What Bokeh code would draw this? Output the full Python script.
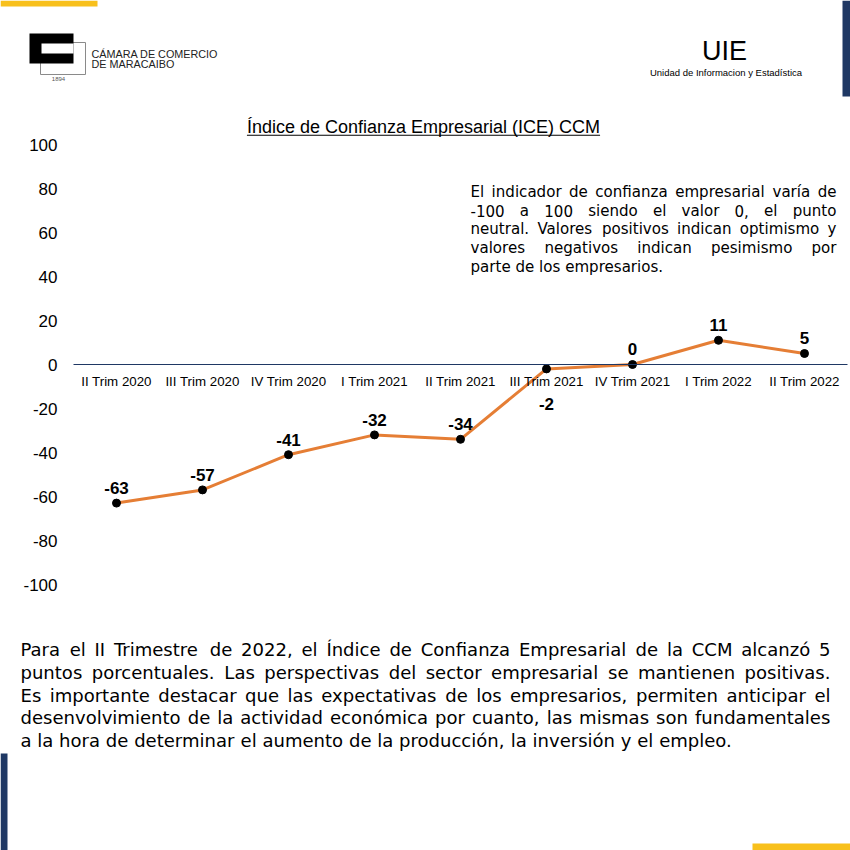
import glob
import os
import struct

from bokeh.core.properties import value
from bokeh.embed import file_html
from bokeh.models import ColumnDataSource, FixedTicker, Range1d
from bokeh.plotting import figure
from bokeh.resources import INLINE

# ---------------- data ----------------
categories = ["II Trim 2020", "III Trim 2020", "IV Trim 2020", "I Trim 2021", "II Trim 2021",
              "III Trim 2021", "IV Trim 2021", "I Trim 2022", "II Trim 2022"]
ice_values = [-63, -57, -41, -32, -34, -2, 0, 11, 5]
y_ticks = [-100, -80, -60, -40, -20, 0, 20, 40, 60, 80, 100]

chart_title = "Índice de Confianza Empresarial (ICE) CCM"
note_lines = [
    "El indicador de confianza empresarial varía de",
    "-100 a 100 siendo el valor 0, el punto",
    "neutral. Valores positivos indican optimismo y",
    "valores negativos indican pesimismo por",
    "parte de los empresarios.",
]
paragraph_lines = [
    "Para el II Trimestre de 2022, el Índice de Confianza Empresarial de la CCM alcanzó 5",
    "puntos porcentuales. Las perspectivas del sector empresarial se mantienen positivas.",
    "Es importante destacar que las expectativas de los empresarios, permiten anticipar el",
    "desenvolvimiento de la actividad económica por cuanto, las mismas son fundamentales",
    "a la hora de determinar el aumento de la producción, la inversión y el empleo.",
]

# label vertical offsets (style only, pixels)
label_offsets = [-15, -15, -15, -15, -15, 35, -16, -15, -16]

NAVY = "#1F3864"
YELLOW = "#F8C01C"
ORANGE = "#E57E35"
W = H = 850

# chart placement on the page (layout, pixels)
FIRST_CENTER = 116     # x of first category centre
CAT_STEP = 86          # pixels per category
ZERO_Y = 364           # y of value 0
PX_PER_UNIT = 2.2      # pixels per index point
MID = 0.347            # distance baseline -> text middle, in em


# ---------------- font metrics (for justified text) ----------------
def find_font(fname):
    for root in ["/usr/share/fonts", "/usr/local/share/fonts", os.path.expanduser("~/.fonts")]:
        hits = glob.glob(os.path.join(root, "**", fname), recursive=True)
        if hits:
            return hits[0]
    return None


def load_width_fn(fname):
    fallback = lambda ch: 0.3 if ch == " " else 0.56
    path = find_font(fname)
    if path is None:
        return fallback
    try:
        data = open(path, "rb").read()
        num = struct.unpack(">H", data[4:6])[0]
        tables = {}
        for i in range(num):
            tag, _cs, off, _ln = struct.unpack(">4sIII", data[12 + 16 * i:28 + 16 * i])
            tables[tag.decode("latin1")] = off
        head = tables["head"]
        upem = struct.unpack(">H", data[head + 18:head + 20])[0]
        hhea = tables["hhea"]
        nhm = struct.unpack(">H", data[hhea + 34:hhea + 36])[0]
        hm = tables["hmtx"]
        adv = [struct.unpack(">H", data[hm + 4 * i:hm + 4 * i + 2])[0] for i in range(nhm)]
        cm = tables["cmap"]
        nsub = struct.unpack(">H", data[cm + 2:cm + 4])[0]
        seginfo = None
        for i in range(nsub):
            pid, eid, off = struct.unpack(">HHI", data[cm + 4 + 8 * i:cm + 12 + 8 * i])
            sub = cm + off
            fmt = struct.unpack(">H", data[sub:sub + 2])[0]
            if fmt == 4 and (pid == 3 or pid == 0):
                segx2 = struct.unpack(">H", data[sub + 6:sub + 8])[0]
                seg = segx2 // 2
                ends = struct.unpack(">%dH" % seg, data[sub + 14:sub + 14 + segx2])
                so = sub + 16 + segx2
                starts = struct.unpack(">%dH" % seg, data[so:so + segx2])
                deltas = struct.unpack(">%dh" % seg, data[so + segx2:so + 2 * segx2])
                ro = so + 2 * segx2
                ros = struct.unpack(">%dH" % seg, data[ro:ro + segx2])
                seginfo = (seg, ends, starts, deltas, ro, ros)
                break
        seg, ends, starts, deltas, ro, ros = seginfo

        def glyph(c):
            for s in range(seg):
                if starts[s] <= c <= ends[s]:
                    if ros[s] == 0:
                        return (c + deltas[s]) & 0xFFFF
                    addr = ro + 2 * s + ros[s] + 2 * (c - starts[s])
                    g = struct.unpack(">H", data[addr:addr + 2])[0]
                    return (g + deltas[s]) & 0xFFFF if g else 0
            return 0

        cache = {}

        def width(ch):
            if ch not in cache:
                g = glyph(ord(ch))
                cache[ch] = adv[min(g, nhm - 1)] / upem
            return cache[ch]
        return width
    except Exception:
        return fallback


dejavu_w = load_width_fn("DejaVuSans.ttf")
arial_w = load_width_fn("LiberationSans-Regular.ttf")


def em_width(text, wfn):
    return sum(wfn(c) for c in text)


def justified(lines, left, right, baselines, size, wfn):
    xs, ys, texts = [], [], []
    for i, (line, base) in enumerate(zip(lines, baselines)):
        words = line.split(" ")
        widths = [em_width(w, wfn) * size for w in words]
        if i == len(lines) - 1 or len(words) == 1:
            gap = wfn(" ") * size
        else:
            gap = (right - left - sum(widths)) / (len(words) - 1)
        x = left
        for w, wd in zip(words, widths):
            xs.append(x)
            ys.append(base - MID * size)
            texts.append(w)
            x += wd + gap
    return xs, ys, texts


def fit_size(lines, left, right, last_width, wfn):
    size = last_width / em_width(lines[-1], wfn)
    for ln in lines[:-1]:
        size = min(size, (right - left) * 0.985 / em_width(ln, wfn))
    return size


# ---------------- figure: frame covers the whole page ----------------
n = len(categories)
x_pos = list(range(n))
p = figure(width=W, height=H,
           x_range=Range1d(-FIRST_CENTER / CAT_STEP, (W - FIRST_CENTER) / CAT_STEP),
           y_range=Range1d((ZERO_Y - H) / PX_PER_UNIT, ZERO_Y / PX_PER_UNIT),
           output_backend="svg", toolbar_location=None, min_border=0)
p.extra_x_ranges = {"px": Range1d(0, W)}
p.extra_y_ranges = {"py": Range1d(H, 0)}
p.title.visible = False
p.outline_line_color = None
p.background_fill_color = "white"
p.border_fill_color = "white"
p.xgrid.visible = False
p.ygrid.visible = False

p.yaxis.fixed_location = -0.5
p.yaxis.bounds = (y_ticks[0], y_ticks[-1])
p.yaxis.ticker = FixedTicker(ticks=y_ticks)
p.yaxis.major_label_overrides = {t: str(t) for t in y_ticks}
p.yaxis.axis_line_color = None
p.yaxis.major_tick_line_color = None
p.yaxis.minor_tick_line_color = None
p.yaxis.major_tick_out = 0
p.yaxis.major_tick_in = 0
p.yaxis.major_label_standoff = 16
p.yaxis.major_label_text_font = "Liberation Sans"
p.yaxis.major_label_text_font_size = "17px"
p.yaxis.major_label_text_color = "#000000"

p.xaxis.fixed_location = 0
p.xaxis.bounds = (-0.5, n - 0.5)
p.xaxis.ticker = FixedTicker(ticks=x_pos)
p.xaxis.major_label_overrides = {i: c for i, c in zip(x_pos, categories)}
p.xaxis.axis_line_color = NAVY
p.xaxis.axis_line_width = 1
p.xaxis.major_tick_line_color = None
p.xaxis.minor_tick_line_color = None
p.xaxis.major_tick_out = 0
p.xaxis.major_tick_in = 0
p.xaxis.major_label_standoff = 9
p.xaxis.major_label_text_font = "Liberation Sans"
p.xaxis.major_label_text_font_size = "13.3px"
p.xaxis.major_label_text_color = "#000000"

src = ColumnDataSource(dict(x=x_pos, val=ice_values,
                            lbl=[str(v) for v in ice_values], dy=label_offsets))
p.line(x="x", y="val", source=src, line_color=ORANGE, line_width=3)
p.scatter(x="x", y="val", source=src, size=8, fill_color="black", line_color="black")
p.text(x="x", y="val", text="lbl", source=src, y_offset="dy",
       text_font=value("Liberation Sans"), text_font_style="bold", text_font_size="17px",
       text_align="center", text_baseline="middle", text_color="black")


# ---------------- page decorations (page-pixel ranges) ----------------
def rect(x0, y0, x1, y1, fill=None, line=None):
    p.quad(left=[x0], right=[x1], top=[y0], bottom=[y1], x_range_name="px", y_range_name="py",
           fill_color=fill if fill else None, fill_alpha=1.0 if fill else 0.0,
           line_color=line if line else None, line_width=1)


def txt(x, base, text, size, font="Liberation Sans", align="left", color="#000000"):
    p.text(x=[x], y=[base - MID * size], text=[text], x_range_name="px", y_range_name="py",
           text_font=value(font), text_font_size=value("%.2fpx" % size), text_align=align,
           text_baseline="middle", text_color=color)


def text_block(lines, left, right, baselines, last_width, wfn, font):
    size = fit_size(lines, left, right, last_width, wfn)
    xs, ys, ts = justified(lines, left, right, baselines, size, wfn)
    p.text(x=xs, y=ys, text=ts, x_range_name="px", y_range_name="py",
           text_font=value(font), text_font_size=value("%.2fpx" % size),
           text_align="left", text_baseline="middle", text_color="#000000")


# edge bars
rect(0, 0, 97, 6, fill=YELLOW)
rect(842, 0, 850, 96, fill=NAVY)
rect(0, 753, 7, 850, fill=NAVY)
rect(752, 843, 850, 850, fill=YELLOW)

# logo
rect(40, 42, 85, 74, line="#8a8a8a")
rect(29, 33, 73, 63, fill="#000000")
rect(41, 43, 73, 53, fill="#ffffff")
txt(58, 81, "1894", 6, color="#555555", align="center")
txt(91, 57.5, "CÁMARA DE COMERCIO", 10.8, color="#222222")
txt(91, 67.5, "DE MARACAIBO", 10.8, color="#222222")

# UIE header
txt(724, 60, "UIE", 27, align="center")
txt(725.5, 75.5, "Unidad de Informacion y Estadística", 9.5, align="center")

# chart title with underline
title_size = 18
txt(423, 132.5, chart_title, title_size, align="center")
tw = em_width(chart_title, arial_w) * title_size
rect(423 - tw / 2, 134.2, 423 + tw / 2, 135.3, fill="#000000")

# explanatory note and closing paragraph (justified)
text_block(note_lines, 470, 836, [196.5, 215.3, 234.0, 252.8, 271.6], 193, dejavu_w,
           "DejaVu Sans")
text_block(paragraph_lines, 20, 830, [655.0, 677.9, 700.8, 723.7, 746.6], 725, dejavu_w,
           "DejaVu Sans")

open("out.html", "w").write(file_html(p, INLINE))
